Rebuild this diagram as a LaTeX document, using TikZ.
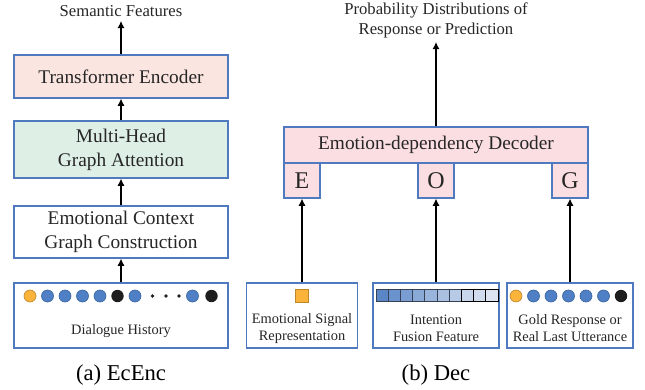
\documentclass[tikz,border=0pt]{standalone}
\usepackage{fontspec}
\setmainfont{Liberation Serif}
\usetikzlibrary{arrows.meta}

\begin{document}
\begin{tikzpicture}[x=0.75pt,y=0.75pt,yscale=-1,xscale=1,
  blk/.style={draw={rgb, 255:red, 79; green, 122; blue, 192}, line width=0.8pt, inner sep=0pt, align=center,
    text={rgb, 255:red, 38; green, 38; blue, 38}, font=\fontsize{14.5}{18}\selectfont},
  slot/.style={blk, fill={rgb, 255:red, 251; green, 222; blue, 226}, minimum width=27pt, minimum height=26.25pt,
    font=\fontsize{18}{20}\selectfont},
  inbox/.style={blk, fill=white, minimum height=48.75pt},
  small/.style={align=center, inner sep=0pt, text={rgb, 255:red, 38; green, 38; blue, 38}, font=\fontsize{10.8}{12.8}\selectfont},
  outtxt/.style={align=center, inner sep=3pt, text={rgb, 255:red, 38; green, 38; blue, 38}, font=\fontsize{12.5}{15}\selectfont},
  capt/.style={font=\fontsize{17}{20}\selectfont},
  flow/.style={-{Latex[length=5.5pt,width=5.5pt]}, line width=1.6pt, black},
  bdot/.style={fill={rgb, 255:red, 79; green, 127; blue, 196}, draw={rgb, 255:red, 58; green, 100; blue, 160}, line width=0.5pt},
  odot/.style={fill={rgb, 255:red, 250; green, 180; blue, 60}, draw={rgb, 255:red, 190; green, 135; blue, 40}, line width=0.5pt},
  kdot/.style={fill={rgb, 255:red, 30; green, 30; blue, 30}},
  cell/.style={draw={rgb, 255:red, 55; green, 65; blue, 85}, line width=0.6pt}
]
\useasboundingbox (0,0) rectangle (645,389);

%% ---------- encoder column ----------
% Text Node
\node[outtxt] (semf) at (121,11) {Semantic Features};
%Shape: Rectangle
\node[blk, fill={rgb, 255:red, 251; green, 229; blue, 224}, minimum width=160.5pt, minimum height=32.25pt] (enc) at (121,76.5) {Transformer Encoder};
%Shape: Rectangle
\node[blk, fill={rgb, 255:red, 222; green, 239; blue, 230}, minimum width=160.5pt, minimum height=42.75pt] (gat) at (121,149.5) {Multi-Head\\Graph Attention};
%Shape: Rectangle
\node[blk, fill=white, minimum width=160.5pt, minimum height=39pt] (ecg) at (121,232) {Emotional Context\\Graph Construction};
%Shape: Rectangle
\node[inbox, minimum width=160.5pt] (hist) at (121,315.5) {};
% Text Node
\node[small] (histtxt) at (121,331) {Dialogue History};

%Shape: Circle
\filldraw[odot] (30,296) circle (6);
\filldraw[bdot] (47.5,296) circle (6);
\filldraw[bdot] (65,296) circle (6);
\filldraw[bdot] (82.5,296) circle (6);
\filldraw[bdot] (100,296) circle (6);
\fill[kdot] (117.5,296) circle (6.2);
\filldraw[bdot] (135,296) circle (6);
\fill[kdot] (152.5,296) circle (1.8);
\fill[kdot] (166,296) circle (1.8);
\fill[kdot] (179,296) circle (1.8);
\filldraw[bdot] (192.5,296) circle (6);
\fill[kdot] (211.5,296) circle (6.2);

%Straight Lines
\draw[flow] (hist) -- (ecg);
\draw[flow] (ecg) -- (gat);
\draw[flow] (gat) -- (enc);
\draw[flow] (enc) -- (semf);

% Text Node
\node[capt] (capa) at (121,375) {(a) EcEnc};

%% ---------- decoder column ----------
% Text Node
\node[outtxt] (prob) at (436,20) {Probability Distributions of\\Response or Prediction};
%Shape: Rectangle
\node[blk, fill={rgb, 255:red, 251; green, 222; blue, 226}, minimum width=228pt, minimum height=27pt] (dec) at (436,145) {Emotion-dependency Decoder};
%Shape: Rectangle
\node[slot] (E) at (302,180.5) {E};
\node[slot] (O) at (436,180.5) {O};
\node[slot] (G) at (570,180.5) {G};

%Shape: Rectangle
\node[inbox, minimum width=83.25pt] (emo) at (302,315.5) {};
\node[inbox, minimum width=94.5pt] (itn) at (436,315.5) {};
\node[inbox, minimum width=94.5pt] (gold) at (570,315.5) {};

% Text Node
\node[small] (emotxt) at (302,328.5) {Emotional Signal\\Representation};
% Text Node
\node[small] (itntxt) at (436,328.5) {Intention\\Fusion Feature};
% Text Node
\node[small] (goldtxt) at (570,328.5) {Gold Response or\\Real Last Utterance};

%Shape: Square
\filldraw[odot, line width=0.7pt] (295.5,289.5) rectangle (308.5,302.5);

%Shape: Rectangle (feature cells)
\filldraw[cell, fill={rgb, 255:red, 91; green, 134; blue, 198}] (376,289) rectangle (388.2,301);
\filldraw[cell, fill={rgb, 255:red, 106; green, 146; blue, 204}] (388.2,289) rectangle (400.4,301);
\filldraw[cell, fill={rgb, 255:red, 122; green, 158; blue, 210}] (400.4,289) rectangle (412.6,301);
\filldraw[cell, fill={rgb, 255:red, 138; green, 170; blue, 214}] (412.6,289) rectangle (424.8,301);
\filldraw[cell, fill={rgb, 255:red, 154; green, 181; blue, 219}] (424.8,289) rectangle (437,301);
\filldraw[cell, fill={rgb, 255:red, 169; green, 192; blue, 224}] (437,289) rectangle (449.2,301);
\filldraw[cell, fill={rgb, 255:red, 184; green, 203; blue, 230}] (449.2,289) rectangle (461.4,301);
\filldraw[cell, draw=black, fill={rgb, 255:red, 200; green, 214; blue, 236}] (461.4,289) rectangle (473.6,301);
\filldraw[cell, draw=black, fill={rgb, 255:red, 208; green, 220; blue, 238}] (473.6,289) rectangle (485.8,301);
\filldraw[cell, draw=black, fill={rgb, 255:red, 220; green, 228; blue, 242}] (485.8,289) rectangle (498,301);

%Shape: Circle
\filldraw[odot] (516,296) circle (6);
\filldraw[bdot] (533.5,296) circle (6);
\filldraw[bdot] (551,296) circle (6);
\filldraw[bdot] (568.5,296) circle (6);
\filldraw[bdot] (586,296) circle (6);
\filldraw[bdot] (603.5,296) circle (6);
\fill[kdot] (621,296) circle (6.2);

%Straight Lines
\draw[flow] (emo) -- (E);
\draw[flow] (itn) -- (O);
\draw[flow] (gold) -- (G);
\draw[flow] (dec) -- (prob);

% Text Node
\node[capt] (capb) at (436,375) {(b) Dec};

\end{tikzpicture}
\end{document}
